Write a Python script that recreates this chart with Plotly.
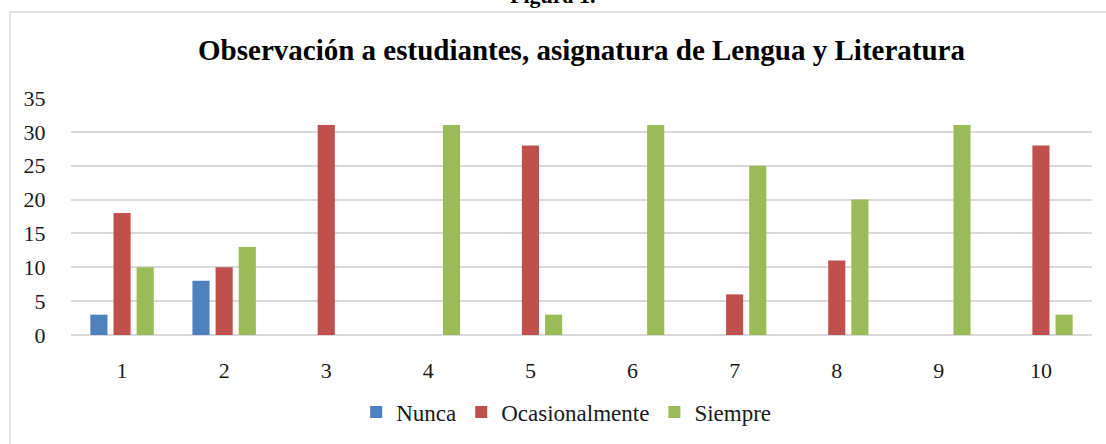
import plotly.graph_objects as go

categories = ["1", "2", "3", "4", "5", "6", "7", "8", "9", "10"]
nunca = [3, 8, 0, 0, 0, 0, 0, 0, 0, 0]
ocasionalmente = [18, 10, 31, 0, 28, 0, 6, 11, 0, 28]
siempre = [10, 13, 0, 31, 3, 31, 25, 20, 31, 3]
y_ticks = [0, 5, 10, 15, 20, 25, 30, 35]

font_family = "Liberation Serif, Times New Roman, serif"

fig = go.Figure()
fig.add_trace(go.Bar(name="Nunca", x=categories, y=nunca, marker=dict(color="#4f81bd", line=dict(width=0))))
fig.add_trace(go.Bar(name="Ocasionalmente", x=categories, y=ocasionalmente, marker=dict(color="#c0504d", line=dict(width=0))))
fig.add_trace(go.Bar(name="Siempre", x=categories, y=siempre, marker=dict(color="#9bbb59", line=dict(width=0))))

fig.update_layout(
    width=1106, height=444,
    margin=dict(l=71, r=14, t=98, b=109, autoexpand=False),
    paper_bgcolor="white", plot_bgcolor="white",
    barmode="group", bargap=0.32, bargroupgap=0.26,
    font=dict(family=font_family, size=22, color="#1a1a1a"),
    title=dict(text="<b>Observación a estudiantes, asignatura de Lengua y Literatura</b>",
               x=0.5, xref="paper", xanchor="center", y=1 - 50 / 444, yanchor="middle",
               font=dict(family=font_family, size=29, color="black")),
    legend=dict(orientation="h", x=0.485, xref="paper", xanchor="center", y=-(412 - 335) / 237, yanchor="middle",
                font=dict(family=font_family, size=23, color="#1a1a1a"), itemwidth=30,
                traceorder="normal"),
    xaxis=dict(showgrid=False, showline=False, ticks="outside", ticklen=16, tickcolor="rgba(0,0,0,0)",
               tickfont=dict(size=22), automargin=False),
    yaxis=dict(range=[0, 35], tickvals=y_ticks, showgrid=True, gridcolor="#d9d9d9", gridwidth=1.5,
               zeroline=True, zerolinecolor="#d9d9d9", zerolinewidth=1.5, showline=False,
               ticks="outside", ticklen=20, tickcolor="rgba(0,0,0,0)", tickfont=dict(size=22),
               automargin=False),
    showlegend=True,
)

# chart border (light gray box, extending past the right and bottom of the picture)
fig.add_shape(type="rect", xref="paper", yref="paper",
              x0=(10 - 71) / 1021, x1=1.2, y0=-1.0, y1=(335 - 12) / 237,
              line=dict(color="#d9d9d9", width=1.5), fillcolor="rgba(0,0,0,0)", layer="below")

fig.add_annotation(text="<b>Figura 1.</b>", xref="paper", yref="paper", x=(553 - 71) / 1021,
                   y=(335 + 4) / 237, xanchor="center", yanchor="middle", showarrow=False,
                   font=dict(family=font_family, size=22, color="black"))

fig.write_html("out.html", config={"displayModeBar": False},
               post_script="document.body.style.margin='0';document.body.style.padding='0';")
